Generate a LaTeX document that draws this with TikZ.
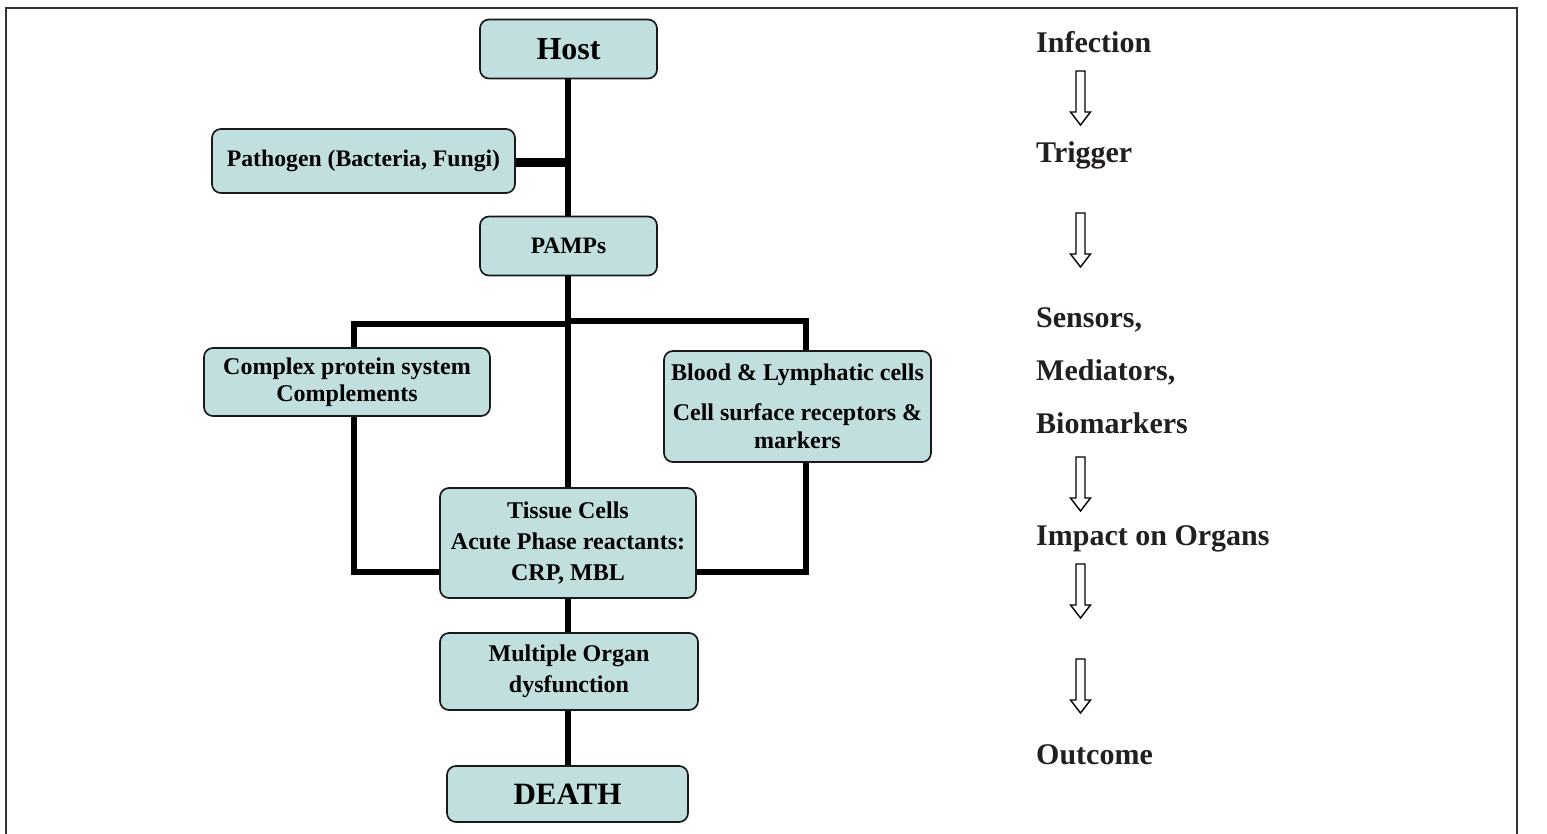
\documentclass[tikz,border=0pt]{standalone}
\usepackage{fontspec}
\setmainfont{Liberation Serif}
\definecolor{boxfill}{HTML}{C0DFDE}
\definecolor{ink}{HTML}{231F20}
\tikzset{
  x=1pt, y=-1pt,
  flowbox/.style={draw=black!90, line width=1.7pt, fill=boxfill, rounded corners=9pt,
    inner sep=0pt, align=center, text=black},
  conn/.style={line width=5.4pt, black, line join=miter},
  sidelabel/.style={anchor=base west, inner sep=0pt, text=ink,
    font=\fontsize{30}{36}\selectfont\bfseries},
  openarrow/.style={draw=black, line width=1.4pt, fill=white, line join=miter},
  frameline/.style={draw=black!80, line width=2pt}
}
\begin{document}
\begin{tikzpicture}
\useasboundingbox (0,0) rectangle (1547,833);
\draw[frameline] (6,840) -- (6,8) -- (1517,8) -- (1517,840);

% boxes
\node[flowbox, minimum width=177pt, minimum height=59pt,
  font=\fontsize{32}{36}\selectfont\bfseries] (host) at (568.5,49) {Host};
\node[flowbox, minimum width=303pt, minimum height=64pt,
  font=\fontsize{23.7}{27}\selectfont\bfseries] (path) at (363.5,161) {Pathogen (Bacteria, Fungi)};
\node[flowbox, minimum width=177pt, minimum height=59pt,
  font=\fontsize{23.5}{27}\selectfont\bfseries] (pamps) at (568.5,246) {PAMPs};
\node[flowbox, minimum width=286pt, minimum height=68pt,
  font=\fontsize{24}{27}\selectfont\bfseries] (complex) at (347,382) {Complex protein system\\Complements};
\node[flowbox, minimum width=267pt, minimum height=111pt,
  font=\fontsize{24}{28}\selectfont\bfseries] (blood) at (797.5,406.5) {Blood \& Lymphatic cells\\[12pt]Cell surface receptors \&\\markers};
\node[flowbox, minimum width=256pt, minimum height=110pt,
  font=\fontsize{24}{31}\selectfont\bfseries] (tissue) at (568,543) {Tissue Cells\\Acute Phase reactants:\\CRP, MBL};
\node[flowbox, minimum width=258pt, minimum height=77pt,
  font=\fontsize{24}{31}\selectfont\bfseries] (organ) at (569,671.5) {Multiple Organ\\dysfunction};
\node[flowbox, minimum width=241pt, minimum height=56pt,
  font=\fontsize{31}{36}\selectfont\bfseries] (death) at (567.5,794) {DEATH};

% junction coordinates
\coordinate (trunk) at (568,0);
\coordinate (jl) at (354,324);
\coordinate (jr) at (806,321);
\coordinate (bl) at (354,572);
\coordinate (br) at (806,572);
\coordinate (pj) at (568,162.5);

% connectors
\draw[conn] (trunk |- host.south) -- (trunk |- pamps.north);
\draw[conn, line width=8.5pt] (path.east |- pj) -- (pj);
\draw[conn] (trunk |- pamps.south) -- (trunk |- tissue.north);
\draw[conn] (complex.north -| jl) -- (jl) -- (jl -| trunk);
\draw[conn] (blood.north -| jr) -- (jr) -- (jr -| trunk);
\draw[conn] (complex.south -| bl) -- (bl) -- (bl -| tissue.west);
\draw[conn] (blood.south -| br) -- (br) -- (br -| tissue.east);
\draw[conn] (trunk |- tissue.south) -- (trunk |- organ.north);
\draw[conn] (trunk |- organ.south) -- (trunk |- death.north);

% right column labels
\node[sidelabel] (infection) at (1036,52) {Infection};
\node[sidelabel] (trigger) at (1036,162) {Trigger};
\node[sidelabel] (sensors) at (1036,327) {Sensors,};
\node[sidelabel] (mediators) at (1036,380) {Mediators,};
\node[sidelabel] (biomarkers) at (1036,433) {Biomarkers};
\node[sidelabel] (impact) at (1036,545) {Impact on Organs};
\node[sidelabel] (outcome) at (1036,764) {Outcome};

% open block arrows
\foreach \t/\b in {71/125, 213/267, 457/511, 564/618, 659/713}{
  \draw[openarrow] (1076,\t) -- (1085,\t) -- (1085,\b-13) -- (1090.5,\b-13)
    -- (1080.5,\b) -- (1070.5,\b-13) -- (1076,\b-13) -- cycle;
}
\end{tikzpicture}
\end{document}
